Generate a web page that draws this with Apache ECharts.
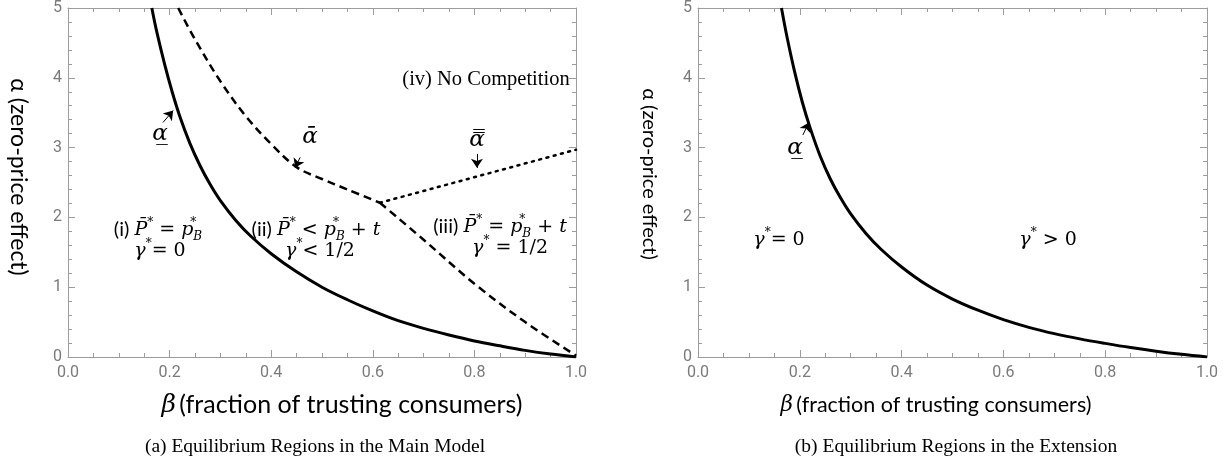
<!DOCTYPE html>
<html>
<head>
<meta charset="utf-8">
<script src="https://cdn.jsdelivr.net/npm/echarts@6/dist/echarts.min.js"></script>
<style>
  html, body { margin: 0; padding: 0; background: #fff; }
  #chart { width: 1229px; height: 466px; }
</style>
</head>
<body>
<div id="chart"></div>
<script>
// lower threshold (alpha underbar), panel (a)
const betaLowA = [0.165, 0.175, 0.19, 0.205, 0.22, 0.24, 0.26, 0.28, 0.30, 0.33, 0.36, 0.40, 0.45, 0.50, 0.55, 0.60, 0.65, 0.70, 0.75, 0.80, 0.85, 0.90, 0.95, 1.0];
const alphaLowA = [5.0, 4.65, 4.2, 3.8, 3.45, 3.06, 2.74, 2.47, 2.24, 1.96, 1.73, 1.48, 1.22, 1.0, 0.82, 0.66, 0.52, 0.41, 0.315, 0.23, 0.16, 0.095, 0.042, 0.0];

// lower threshold, panel (b)
const betaLowB = [0.164, 0.175, 0.19, 0.205, 0.22, 0.24, 0.26, 0.28, 0.30, 0.33, 0.36, 0.40, 0.45, 0.50, 0.55, 0.60, 0.65, 0.70, 0.75, 0.80, 0.85, 0.90, 0.95, 1.0];
const alphaLowB = [5.0, 4.58, 4.08, 3.65, 3.29, 2.88, 2.55, 2.28, 2.05, 1.77, 1.54, 1.29, 1.03, 0.83, 0.67, 0.535, 0.425, 0.335, 0.26, 0.195, 0.135, 0.083, 0.038, 0.0];

// upper threshold (alpha bar), down to the kink
const betaBar = [0.217, 0.25, 0.30, 0.35, 0.40, 0.45, 0.50, 0.55, 0.614];
const alphaBar = [5.0, 4.55, 3.95, 3.45, 3.05, 2.72, 2.55, 2.40, 2.21];

// dashed boundary from the kink down to beta = 1
const betaEdge = [0.614, 0.70, 0.80, 0.90, 1.0];
const alphaEdge = [2.21, 1.68, 1.05, 0.50, 0.02];

// alpha double bar (dotted)
const betaBar2 = [0.614, 1.0];
const alphaBar2 = [2.21, 2.97];

// annotation arrows: [fromBeta, fromAlpha, toBeta, toAlpha]
const arrowsA = [[0.187, 3.36, 0.207, 3.53], [0.457, 2.86, 0.447, 2.71], [0.805, 2.91, 0.805, 2.71]];
const arrowsB = [[0.206, 3.18, 0.218, 3.36]];

const xTicks = { min: 0, max: 1, interval: 0.2 };
const yTicks = { min: 0, max: 5, interval: 1 };

const AXIS_GREY = '#9c9c9c';
const LABEL_GREY = '#7a7a7a';

function pairs(xs, ys) {
  return xs.map((x, i) => [x, ys[i]]);
}

function arrowData(list) {
  return list.map(a => [{ coord: [a[0], a[1]] }, { coord: [a[2], a[3]] }]);
}

function xAxis(grid, pos) {
  return {
    type: 'value', gridIndex: grid, position: pos,
    min: xTicks.min, max: xTicks.max, interval: xTicks.interval,
    axisLine: { show: true, onZero: false, lineStyle: { color: AXIS_GREY, width: 1 } },
    axisTick: { show: true, inside: true, length: 7, lineStyle: { color: AXIS_GREY } },
    minorTick: { show: true, splitNumber: 4, length: 4, lineStyle: { color: AXIS_GREY } },
    splitLine: { show: false },
    axisLabel: {
      show: pos === 'bottom', margin: 8, color: LABEL_GREY,
      fontFamily: 'Roboto', fontSize: 16,
      formatter: v => v.toFixed(1)
    }
  };
}

function yAxis(grid, pos) {
  return {
    type: 'value', gridIndex: grid, position: pos,
    min: yTicks.min, max: yTicks.max, interval: yTicks.interval,
    axisLine: { show: true, onZero: false, lineStyle: { color: AXIS_GREY, width: 1 } },
    axisTick: { show: true, inside: true, length: 7, lineStyle: { color: AXIS_GREY } },
    minorTick: { show: true, splitNumber: 5, length: 4, lineStyle: { color: AXIS_GREY } },
    splitLine: { show: false },
    axisLabel: {
      show: pos === 'left', margin: 6, color: LABEL_GREY,
      fontFamily: 'Roboto', fontSize: 16
    }
  };
}

function arrowLine(list) {
  return {
    silent: true, animation: false,
    symbol: ['none', 'arrow'], symbolSize: 9,
    label: { show: false },
    lineStyle: { color: '#000', width: 1, type: 'solid' },
    emphasis: { disabled: true },
    data: arrowData(list)
  };
}

// text styles for the math annotations
const MATH = 'DejaVu Serif';
const rich = {
  r: { fontFamily: 'Lato', fontSize: 20, fill: '#000', lineHeight: 26 },
  v: { fontFamily: MATH, fontStyle: 'italic', fontSize: 19, fill: '#000', lineHeight: 26 },
  o: { fontFamily: MATH, fontSize: 19, fill: '#000', lineHeight: 26 },
  sp: { fontFamily: MATH, fontSize: 12, fill: '#000', verticalAlign: 'top', lineHeight: 14 },
  sp0: { fontFamily: MATH, fontSize: 12, fill: '#000', verticalAlign: 'top', lineHeight: 14, width: 0 },
  sb: { fontFamily: MATH, fontStyle: 'italic', fontSize: 12, fill: '#000', verticalAlign: 'bottom', lineHeight: 14 }
};

function txt(x, y, text, extra) {
  return {
    type: 'text', x: x, y: y, silent: true,
    style: Object.assign({
      text: text, rich: rich, fill: '#000',
      align: 'center', verticalAlign: 'middle',
      textAlign: 'center', textVerticalAlign: 'middle'
    }, extra || {})
  };
}

function greek(x, y, s) {
  return txt(x, y, '{a|' + s + '}', {
    rich: { a: { fontFamily: MATH, fontStyle: 'italic', fontSize: 23, fill: '#000' } }
  });
}

function betaName(x, y, size) {
  return txt(x, y, '{bv|β} {bn|(fraction of trusting consumers)}', {
    rich: {
      bv: { fontFamily: MATH, fontStyle: 'italic', fontSize: size, fill: '#000' },
      bn: { fontFamily: 'Lato', fontSize: size, fill: '#000' }
    }
  });
}

function curve(xIdx, xs, ys, style, extra) {
  return Object.assign({
    type: 'line', xAxisIndex: xIdx, yAxisIndex: xIdx, symbol: 'none',
    smooth: 0.35,
    lineStyle: Object.assign({ color: '#000' }, style),
    data: pairs(xs, ys)
  }, extra || {});
}

const pB = '{v|p}{sp0|*}{sb|B}';
const gStar = '{v|γ}{sp|*}';

const chart = echarts.init(document.getElementById('chart'));

chart.setOption({
  animation: false,
  backgroundColor: '#fff',
  grid: [
    { left: 68, top: 7, width: 508, height: 350 },
    { left: 698, top: 7, width: 509, height: 350 }
  ],
  xAxis: [xAxis(0, 'bottom'), xAxis(0, 'top'), xAxis(1, 'bottom'), xAxis(1, 'top')],
  yAxis: [yAxis(0, 'left'), yAxis(0, 'right'), yAxis(1, 'left'), yAxis(1, 'right')],
  series: [
    curve(0, betaLowA, alphaLowA, { width: 3 }, { markLine: arrowLine(arrowsA) }),
    curve(0, betaBar, alphaBar, { width: 2.5, type: [8, 5] }),
    curve(0, betaEdge, alphaEdge, { width: 2.5, type: [8, 5] }),
    curve(0, betaBar2, alphaBar2, { width: 2.5, type: [2, 5.5], cap: 'round' }, { smooth: false }),
    curve(2, betaLowB, alphaLowB, { width: 3 }, { markLine: arrowLine(arrowsB) })
  ],
  graphic: [
    // axis names
    txt(18, 177, 'α (zero-price effect)', { font: '23px Lato', fill: '#000' }),
    betaName(342, 405, 25),
    txt(649, 174, 'α (zero-price effect)', { font: '20px Lato', fill: '#000' }),
    betaName(936, 405, 21.5),
    // captions
    txt(315, 447, '(a) Equilibrium Regions in the Main Model', { font: '19.5px "Liberation Serif"', fill: '#000' }),
    txt(956, 447, '(b) Equilibrium Regions in the Extension', { font: '19.5px "Liberation Serif"', fill: '#000' }),
    // left panel region labels
    txt(486, 80, '(iv) No Competition', { font: '20.5px "Liberation Serif"', fill: '#000' }),
    txt(158, 230, '{r|(i) }{v|P̄}{sp|*}{o| = }' + pB),
    txt(160, 251, gStar + '{o|= 0}'),
    txt(316, 230, '{r|(ii) }{v|P̄}{sp|*}{o| < }' + pB + '{o| + }{v|t}'),
    txt(320, 251, gStar + '{o|< 1/2}'),
    txt(500, 227, '{r|(iii) }{v|P̄}{sp|*}{o| = }' + pB + '{o| + }{v|t}'),
    txt(510, 248, gStar + '{o| = 1/2}'),
    // threshold labels
    greek(160, 134, 'α̲'),
    greek(310, 137, 'ᾱ'),
    greek(477, 140, 'α̿'),
    // right panel labels
    greek(795, 148, 'α̲'),
    txt(779, 240, gStar + '{o|= 0}'),
    txt(1048, 240, gStar + '{o| > 0}')
  ]
});

// rotate the vertical axis names (read top to bottom)
const opt = chart.getOption();
opt.graphic[0].elements[0].rotation = -Math.PI / 2;
opt.graphic[0].elements[2].rotation = -Math.PI / 2;
chart.setOption({ graphic: opt.graphic });
</script>
</body>
</html>
